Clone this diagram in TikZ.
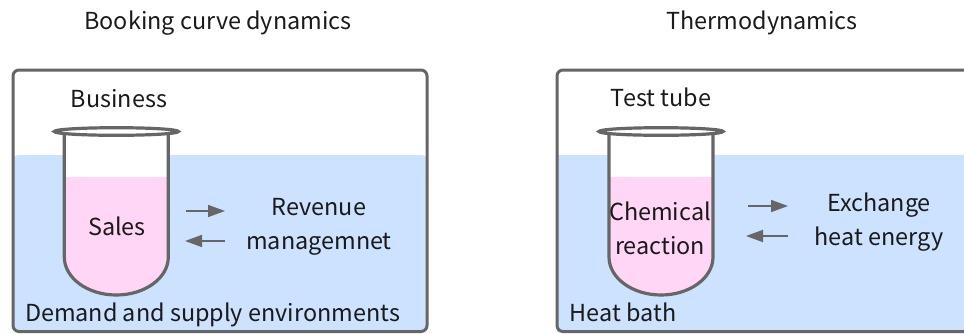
\documentclass[tikz,border=0pt]{standalone}
\usepackage{fontspec}
\usetikzlibrary{arrows.meta}
\setmainfont{Noto Sans CJK JP}
\definecolor{bathblue}{HTML}{CCE2FF}
\definecolor{liquidpink}{HTML}{FFD6F5}
\definecolor{linegray}{HTML}{666666}
\definecolor{textblack}{HTML}{1A1A1A}
\tikzset{
  lab/.style={text=textblack,font=\fontsize{23.4pt}{34pt}\selectfont,inner sep=0pt,align=center},
  frameline/.style={draw=linegray,line width=3pt,rounded corners=6pt},
  tubeline/.style={draw=linegray,line width=3.2pt},
  flow/.style={draw=linegray,line width=1.6pt,-{Triangle[length=17pt,width=12pt]}}
}
\newcommand{\testtube}[1]{%
  \begin{scope}[shift={(#1,0)}]
    \fill[white] (-52,131) rectangle (52,200);
    \fill[liquidpink,rounded corners=2pt] (-52,177) -- (52,177) -- (52,240) -- (-52,240) -- cycle;
    \fill[liquidpink] (-52,235) -- (-52,257) .. controls (-52,278) and (-28.7,295) .. (0,295) .. controls (28.7,295) and (52,278) .. (52,257) -- (52,235) -- cycle;
    \draw[tubeline] (-52,131) -- (-52,257) .. controls (-52,278) and (-28.7,295) .. (0,295) .. controls (28.7,295) and (52,278) .. (52,257) -- (52,131);
    \draw[tubeline,fill=white] (0,131.5) ellipse [x radius=62,y radius=3.8];
  \end{scope}}
\begin{document}
\begin{tikzpicture}[x=1pt,y=-1pt]
\useasboundingbox (0,0) rectangle (964,333);
% left panel
\fill[bathblue,rounded corners=5pt] (13,155) -- (427,155) -- (427,332) -- (13,332) -- cycle;
\draw[frameline] (13,70) rectangle (427,331.5);
\testtube{116.3}
\node[lab] (t1) at (218,23) {Booking curve dynamics};
\node[lab] (b1) at (119,99) {Business};
\node[lab] (s1) at (117,226.5) {Sales};
\node[lab] (r1) at (319,226.5) {Revenue\\managemnet};
\node[lab] (d1) at (212.5,315) {Demand and supply environments};
\coordinate (a1s) at (186,211);
\coordinate (a1e) at (225,211);
\coordinate (a2s) at (225,241);
\coordinate (a2e) at (185,241);
\draw[flow] (a1s) -- (a1e);
\draw[flow] (a2s) -- (a2e);
% right panel
\fill[bathblue] (557,155) -- (964,155) -- (964,332) -- (557,332) -- cycle;
\draw[frameline] (966,331.5) -- (557,331.5) -- (557,70) -- (966,70);
\testtube{661}
\node[lab] (t2) at (762,23) {Thermodynamics};
\node[lab] (b2) at (661,97.5) {Test tube};
\node[lab] (s2) at (660,228) {Chemical\\reaction};
\node[lab] (r2) at (879,222.5) {Exchange\\heat energy};
\node[lab] (d2) at (623,312.5) {Heat bath};
\coordinate (a3s) at (748,206);
\coordinate (a3e) at (788,206);
\coordinate (a4s) at (788,236);
\coordinate (a4e) at (746,236);
\draw[flow] (a3s) -- (a3e);
\draw[flow] (a4s) -- (a4e);
\end{tikzpicture}
\end{document}
